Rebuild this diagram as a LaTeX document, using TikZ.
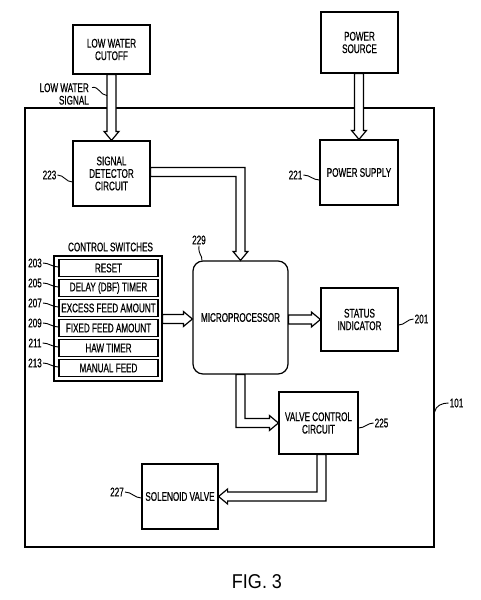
\documentclass[tikz,border=0pt]{standalone}
\usepackage{fontspec}
\setmainfont{Liberation Sans}[FakeStretch=0.65, FakeBold=0.6]
\newfontfamily\figfont{Liberation Sans}[FakeStretch=0.9]
\usetikzlibrary{calc}
\tikzset{
  box/.style={draw, line width=1.2pt, align=center, inner sep=1pt,
    font=\fontsize{12.5}{12.5}\selectfont},
  rowbox/.style={box, minimum width=99pt, minimum height=17pt},
  lbl/.style={inner sep=1pt, align=center, font=\fontsize{12.5}{12.5}\selectfont},
  harrow/.style={draw, fill=white, line width=1.2pt, line join=miter},
  leader/.style={line width=0.9pt}
}
\begin{document}
\begin{tikzpicture}[x=1pt,y=-1pt]
\useasboundingbox (0,0) rectangle (480,600);
% outer housing
\node[box, minimum width=409pt, minimum height=439pt] (main) at (229.5,327.5) {};
% external blocks
\node[box, minimum width=77pt, minimum height=49pt] (lwc) at (111.5,49.5) {LOW WATER\\CUTOFF};
\node[box, minimum width=77pt, minimum height=61pt] (ps) at (359.5,42.5) {POWER\\SOURCE};
% internal blocks
\node[box, minimum width=77pt, minimum height=65pt] (sdc) at (111.5,173.5) {SIGNAL\\DETECTOR\\CIRCUIT};
\node[box, minimum width=78pt, minimum height=65pt] (psu) at (359,172.5) {POWER SUPPLY};
\node[box, minimum width=108pt, minimum height=125pt] (sw) at (108,318.5) {};
\node[lbl] (swt) at (110.5,247) {CONTROL SWITCHES};
\foreach \i/\t/\n in {1/RESET/203, 2/DELAY (DBF) TIMER/205, 3/EXCESS FEED AMOUNT/207,
                      4/FIXED FEED AMOUNT/209, 5/HAW TIMER/211, 6/MANUAL FEED/213} {
  \node[rowbox] (r\i) at (108.5,248+20*\i) {\t};
  \node[lbl] (n\n) at (35,243+20*\i) {\n};
  \draw[leader] (n\n.east) to[out=0,in=180] ($(r\i.west)+(0,-1)$);
}
\node[box, rounded corners=10pt, minimum width=95pt, minimum height=113pt] (mp) at (240.5,317.5) {MICROPROCESSOR};
\node[box, minimum width=77pt, minimum height=63pt] (st) at (359.5,319.5) {STATUS\\INDICATOR};
\node[box, minimum width=79pt, minimum height=62pt] (vcc) at (318.5,423) {VALVE CONTROL\\CIRCUIT};
\node[box, minimum width=76pt, minimum height=65pt] (sol) at (180,496.5) {SOLENOID VALVE};
% hollow arrows
\draw[harrow] ($(sdc.north |- lwc.south)+(-4.5,0)$) -- ($(sdc.north)+(-4.5,-9)$) -- ++(-3,0)
  -- (sdc.north) -- ($(sdc.north)+(7.5,-9)$) -- ++(-3,0) -- ($(sdc.north |- lwc.south)+(4.5,0)$) -- cycle;
\draw[harrow] ($(psu.north |- ps.south)+(-4.5,0)$) -- ($(psu.north)+(-4.5,-9)$) -- ++(-3,0)
  -- (psu.north) -- ($(psu.north)+(7.5,-9)$) -- ++(-3,0) -- ($(psu.north |- ps.south)+(4.5,0)$) -- cycle;
\draw[harrow] ($(sdc.east)+(0,-6)$) -| ($(mp.north)+(4.5,-9)$) -- ++(3,0) -- (mp.north)
  -- ($(mp.north)+(-7.5,-9)$) -- ++(3,0) |- ($(sdc.east)+(0,3)$) -- cycle;
\draw[harrow] ($(sw.east)+(0,-4)$) -- ($(mp.west |- sw.east)+(-9,-4)$) -- ++(0,-3)
  -- ($(mp.west |- sw.east)+(0,0.5)$) -- ($(mp.west |- sw.east)+(-9,8)$) -- ++(0,-3) -- ($(sw.east)+(0,5)$) -- cycle;
\draw[harrow] ($(mp.east |- st.west)+(0,-4.5)$) -- ($(st.west)+(-9,-4.5)$) -- ++(0,-3)
  -- (st.west) -- ($(st.west)+(-9,7.5)$) -- ++(0,-3) -- ($(mp.east |- st.west)+(0,4.5)$) -- cycle;
\draw[harrow] ($(mp.south)+(-4.5,0)$) |- ($(vcc.west)+(-9,4.5)$) -- ++(0,3) -- (vcc.west)
  -- ($(vcc.west)+(-9,-7.5)$) -- ++(0,3) -| ($(mp.south)+(4.5,0)$) -- cycle;
\draw[harrow] ($(vcc.south)+(7.5,0)$) |- ($(sol.east)+(9,4.5)$) -- ++(0,3) -- (sol.east)
  -- ($(sol.east)+(9,-7.5)$) -- ++(0,3) -| ($(vcc.south)+(-1.5,0)$) -- cycle;
% labels and leaders
\node[lbl, align=right, anchor=east] (lws) at (90,94) {LOW WATER\\SIGNAL};
\coordinate (lwsa) at (92,87.5);
\draw[leader] (lwsa) .. controls (99,86) and (100,95) .. ($(lwc.south)+(-4.5,21)$);
\node[lbl] (l223) at (49.5,175) {223};
\draw[leader] (l223.east) to[out=0,in=180] ($(sdc.west)+(0,8.5)$);
\node[lbl] (l221) at (295.5,175) {221};
\draw[leader] (l221.east) to[out=0,in=180] ($(psu.west)+(0,7.5)$);
\node[lbl] (l229) at (199,240) {229};
\draw[leader] (l229.south) .. controls (198,255) and (202.5,255) .. ($(mp.north west)+(9.5,0)$);
\node[lbl] (l201) at (421.5,319) {201};
\draw[leader] ($(st.east)+(0,5.5)$) to[out=0,in=180] (l201.west);
\node[lbl] (l101) at (456.5,403) {101};
\draw[leader] ($(main.east)+(0,84.5)$) to[out=80,in=180] (l101.west);
\node[lbl] (l225) at (381.5,423) {225};
\draw[leader] ($(vcc.east)+(0,5)$) to[out=0,in=180] (l225.west);
\node[lbl] (l227) at (117,492) {227};
\draw[leader] (l227.east) to[out=0,in=180] ($(sol.west)+(0,1.5)$);
% caption
\node (fig) at (257,582) {\figfont\fontsize{20}{24}\selectfont FIG. 3};
\end{tikzpicture}
\end{document}
